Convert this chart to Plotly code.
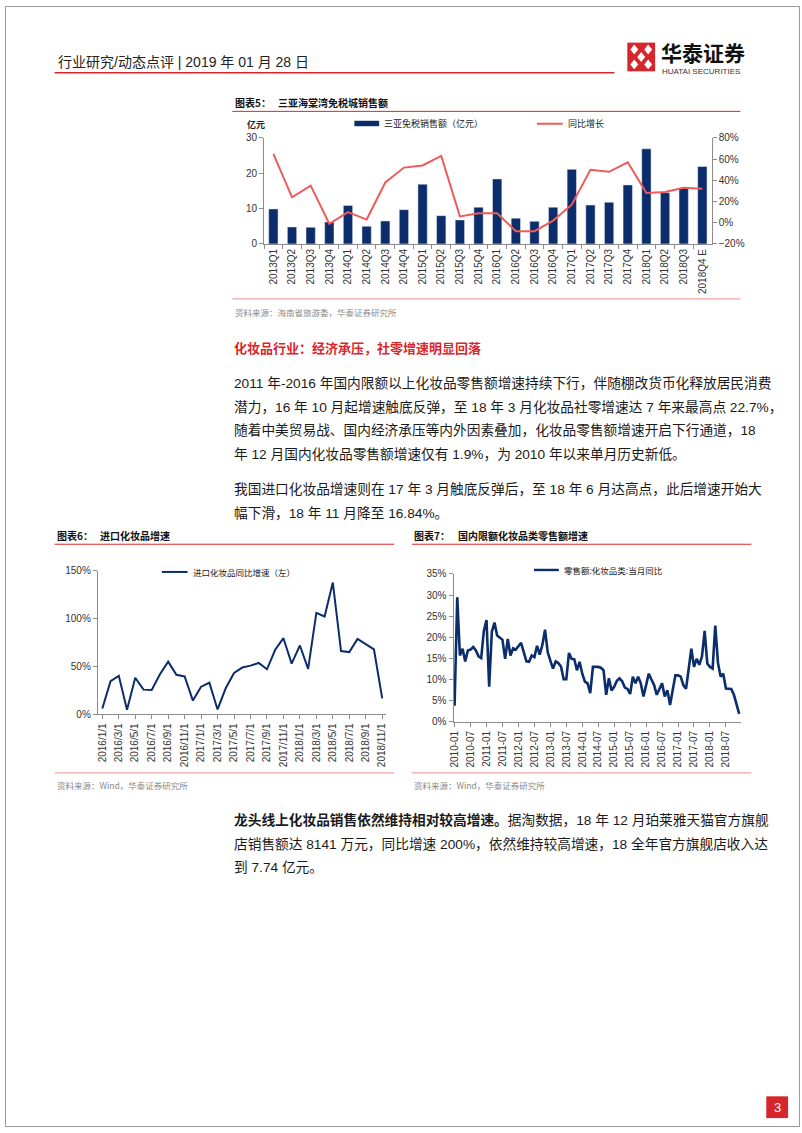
import plotly.graph_objects as go

W, H = 802, 1133


def X(px):
    return px / W


def Y(py):
    return 1 - py / H


# ---------------- data ----------------
# Chart 5: 三亚海棠湾免税城销售额
quarters = ["2013Q1", "2013Q2", "2013Q3", "2013Q4", "2014Q1", "2014Q2", "2014Q3", "2014Q4",
            "2015Q1", "2015Q2", "2015Q3", "2015Q4", "2016Q1", "2016Q2", "2016Q3", "2016Q4",
            "2017Q1", "2017Q2", "2017Q3", "2017Q4", "2018Q1", "2018Q2", "2018Q3", "2018Q4 E"]
sales = [9.9, 4.8, 4.7, 6.2, 10.9, 5.0, 6.5, 9.7,
         16.9, 8.0, 6.8, 10.4, 18.4, 7.3, 6.4, 10.4,
         21.1, 11.0, 11.8, 16.7, 26.9, 14.5, 15.7, 21.9]
growth = [65, 24, 35, -1, 10, 3, 38, 52,
          54, 63, 6, 9, 9, -8, -8, 2,
          17, 50, 48, 57, 28, 29, 33, 32]

# Chart 6: 进口化妆品增速 (monthly 2016/1 - 2018/11)
months6 = [f"{y}/{m}/1" for y in (2016, 2017, 2018) for m in range(1, 13)][:35]
import_growth = [6.2, 34.8, 40.3, 4.8, 38.3, 25.9, 25.5, 42.0, 55.2, 41.4, 39.7, 14.5,
                 29.0, 33.1, 5.2, 27.6, 43.4, 49.0, 51.0, 53.8, 47.2, 67.6, 79.7, 53.1,
                 72.1, 47.6, 106.2, 102.4, 137.9, 66.2, 65.2, 79.0, 73.4, 67.9, 16.84]
ticks6 = months6[::2]

# Chart 7: 国内限额化妆品类零售额增速 (monthly 2010-01 - 2018-12)
months7 = [f"{y}-{m:02d}" for y in range(2010, 2019) for m in range(1, 13)]
retail_growth = [
    3.8, 29.5, 15.7, 17.3, 14.3, 16.9, 17.1, 17.7, 16.9, 15.5, 15.1, 21.5,   # 2010
    24.1, 8.3, 21.3, 23.5, 20.4, 19.8, 19.4, 14.9, 19.6, 15.7, 17.4, 17.1,   # 2011
    17.9, 18.7, 16.5, 14.3, 14.2, 15.7, 15.3, 18.0, 15.9, 18.2, 21.8, 16.5,  # 2012
    14.5, 12.6, 14.3, 13.9, 13.1, 10.1, 10.1, 16.3, 14.9, 14.8, 12.2, 14.2,  # 2013
    11.4, 9.5, 9.1, 6.8, 13.0, 13.0, 13.0, 12.8, 12.2, 6.4, 10.3, 7.4,       # 2014
    8.3, 9.7, 10.3, 9.6, 8.1, 7.8, 6.6, 10.7, 9.1, 10.7, 9.1, 6.0,           # 2015
    8.7, 11.4, 10.0, 8.7, 6.4, 7.8, 9.1, 6.0, 7.5, 4.0, 7.5, 11.0,           # 2016
    11.0, 10.7, 8.7, 7.8, 12.5, 17.3, 13.0, 14.9, 13.5, 15.5, 21.5, 13.8,    # 2017
    13.0, 12.6, 22.8, 14.0, 10.7, 11.4, 7.9, 7.9, 7.8, 6.4, 4.4, 1.9,        # 2018
]
ticks7 = months7[::6]

# ---------------- styles ----------------
NAVY = "#0c2d6b"
RED_LINE = "#f05a5a"
TITLE_RED = "#d9262b"
PINK = "#f2a3a3"
AXIS = "#8c8c8c"
FONT = "Liberation Sans, Arial, Noto Sans CJK SC, sans-serif"
CJK = "Noto Sans CJK SC, Liberation Sans, sans-serif"

fig = go.Figure()

fig.add_trace(go.Bar(x=quarters, y=sales, marker_color=NAVY, width=0.5,
                     xaxis="x", yaxis="y", name="三亚免税销售额（亿元）"))
fig.add_trace(go.Scatter(x=quarters, y=growth, mode="lines",
                         line=dict(color=RED_LINE, width=2),
                         xaxis="x", yaxis="y2", name="同比增长"))
fig.add_trace(go.Scatter(x=months6, y=import_growth, mode="lines",
                         line=dict(color=NAVY, width=2),
                         xaxis="x2", yaxis="y3", name="进口化妆品同比增速（左）"))
fig.add_trace(go.Scatter(x=months7, y=retail_growth, mode="lines",
                         line=dict(color=NAVY, width=2.6),
                         xaxis="x3", yaxis="y4", name="零售额:化妆品类:当月同比"))

tickfont = dict(family=FONT, size=10, color="#333")
common_axis = dict(showline=True, linecolor=AXIS, linewidth=1, showgrid=False,
                   zeroline=False, ticks="outside", ticklen=4, tickcolor=AXIS,
                   tickfont=tickfont)

fig.update_layout(
    width=W, height=H, autosize=False,
    margin=dict(l=0, r=0, t=0, b=0),
    paper_bgcolor="white", plot_bgcolor="rgba(0,0,0,0)",
    showlegend=False,
    xaxis=dict(domain=[X(261), X(712)], anchor="y", type="category",
               tickangle=-90, tickson="boundaries", range=[-0.5, 23.5],
               **common_axis),
    yaxis=dict(domain=[Y(240.5), Y(133.3)], anchor="x", range=[0, 30], dtick=10,
               **common_axis),
    yaxis2=dict(overlaying="y", side="right", anchor="x", range=[-20, 80], dtick=20,
                ticksuffix="%", **common_axis),
    xaxis2=dict(domain=[X(93.5), X(384.2)], anchor="y3", type="category",
                tickangle=-90, tickvals=ticks6, range=[-0.55, 34.5],
                **common_axis),
    yaxis3=dict(domain=[Y(716), Y(571)], anchor="x2", range=[0, 150], dtick=50,
                ticksuffix="%", **common_axis),
    xaxis3=dict(domain=[X(451.9), X(741.9)], anchor="y4", type="category",
                tickangle=-90, tickvals=ticks7, range=[-0.4, 107.8],
                **common_axis),
    yaxis4=dict(domain=[Y(723.5), Y(574)], anchor="x3", range=[0, 35], dtick=5,
                ticksuffix="%", **common_axis),
)

shapes = []
annotations = []


def line(x0, y0, x1, y1, color, width=1):
    shapes.append(dict(type="line", xref="paper", yref="paper",
                       x0=X(x0), y0=Y(y0), x1=X(x1), y1=Y(y1),
                       line=dict(color=color, width=width)))


def rect(x0, y0, x1, y1, fill, lc=None, lw=0):
    shapes.append(dict(type="rect", xref="paper", yref="paper",
                       x0=X(x0), y0=Y(y0), x1=X(x1), y1=Y(y1),
                       fillcolor=fill, line=dict(color=lc or fill, width=lw)))


def text(x, y, s, size=14, color="#1a1a1a", family=FONT, anchor="left"):
    annotations.append(dict(xref="paper", yref="paper", x=X(x), y=Y(y), text=s,
                            showarrow=False, xanchor=anchor, yanchor="middle",
                            font=dict(family=family, size=size, color=color)))


# page border
shapes.append(dict(type="rect", xref="paper", yref="paper", x0=X(0.5), y0=Y(1132.5),
                   x1=X(800.5), y1=Y(0.5), line=dict(color="#9a9a9a", width=1),
                   fillcolor="rgba(0,0,0,0)"))

# header
text(51, 57, "行业研究/动态点评 | 2019 年 01 月 28 日", size=14, color="#222")
line(50, 67.5, 614, 67.5, "#d7262b", 1.6)
# logo
rect(627, 37, 655, 66, "#d7262b")
for cx, cy in ((634, 44), (648, 44), (641, 51.5), (634, 59), (648, 59)):
    shapes.append(dict(type="path", xref="paper", yref="paper",
                       path=f"M {X(cx)},{Y(cy-5)} L {X(cx+4)},{Y(cy)} L {X(cx)},{Y(cy+5)} L {X(cx-4)},{Y(cy)} Z",
                       fillcolor="white", line=dict(color="white", width=0)))
text(659, 46.5, "<b>华泰证券</b>", size=21, color="#111", family=CJK)
text(660, 66.5, "HUATAI SECURITIES", size=8, color="#333")

# ---- chart 5 annotations ----
text(230, 98, "<b>图表5：</b>", size=10, color="#111", family=CJK)
text(273, 98, "<b>三亚海棠湾免税城销售额</b>", size=10, color="#111", family=CJK)
line(229, 106.5, 741, 106.5, TITLE_RED, 1)
text(242, 120, "<b>亿元</b>", size=9, color="#222", family=CJK)
rect(352, 116, 377, 121.5, NAVY)
text(380, 119, "三亚免税销售额（亿元）", size=9, color="#222", family=CJK)
line(536, 119, 562, 119, RED_LINE, 2)
text(565, 119, "同比增长", size=9, color="#222", family=CJK)
line(229, 296, 741, 296, PINK, 1.3)
text(230, 309, "资料来源：海南省旅游委，华泰证券研究所", size=8.5, color="#8a8a8a", family=CJK)

# ---- body text ----
BODY = 13.7
text(229, 345, "<b>化妆品行业：经济承压，社零增速明显回落</b>", size=13, color=TITLE_RED, family=CJK)
para1 = [
    "2011 年-2016 年国内限额以上化妆品零售额增速持续下行，伴随棚改货币化释放居民消费",
    "潜力，16 年 10 月起增速触底反弹，至 18 年 3 月化妆品社零增速达 7 年来最高点 22.7%，",
    "随着中美贸易战、国内经济承压等内外因素叠加，化妆品零售额增速开启下行通道，18",
    "年 12 月国内化妆品零售额增速仅有 1.9%，为 2010 年以来单月历史新低。",
]
for i, s in enumerate(para1):
    text(229, 381 + 24 * i, s, size=BODY)
para2 = [
    "我国进口化妆品增速则在 17 年 3 月触底反弹后，至 18 年 6 月达高点，此后增速开始大",
    "幅下滑，18 年 11 月降至 16.84%。",
]
for i, s in enumerate(para2):
    text(229, 488 + 24 * i, s, size=BODY)

# ---- chart 6 annotations ----
text(50, 535, "<b>图表6：</b>", size=10, color="#111", family=CJK)
text(94, 535, "<b>进口化妆品增速</b>", size=10, color="#111", family=CJK)
line(50, 544, 392, 544, TITLE_RED, 1)
line(158, 572, 184, 572, NAVY, 2)
text(187, 572, "进口化妆品同比增速（左）", size=8.5, color="#222", family=CJK)
line(50, 775, 392, 775, PINK, 1.3)
text(50, 787, "资料来源：Wind，华泰证券研究所", size=8.5, color="#8a8a8a", family=CJK)

# ---- chart 7 annotations ----
text(410, 535, "<b>图表7：</b>", size=10, color="#111", family=CJK)
text(454, 535, "<b>国内限额化妆品类零售额增速</b>", size=10, color="#111", family=CJK)
line(410, 544, 752, 544, TITLE_RED, 1)
line(533, 570, 558, 570, NAVY, 2.4)
text(561, 570, "零售额:化妆品类:当月同比", size=8.5, color="#222", family=CJK)
line(410, 775, 752, 775, PINK, 1.3)
text(410, 787, "资料来源：Wind，华泰证券研究所", size=8.5, color="#8a8a8a", family=CJK)

# ---- paragraph 3 ----
para3 = [
    "<b>龙头线上化妆品销售依然维持相对较高增速。</b>据淘数据，18 年 12 月珀莱雅天猫官方旗舰",
    "店销售额达 8141 万元，同比增速 200%，依然维持较高增速，18 全年官方旗舰店收入达",
    "到 7.74 亿元。",
]
for i, s in enumerate(para3):
    text(229, 823 + 24 * i, s, size=BODY)

# page number
rect(767, 1102, 789, 1124, "#d7262b")
text(778, 1113, "3", size=13, color="white", anchor="center")

fig.update_layout(shapes=shapes, annotations=annotations)
fig.write_html("out.html")
